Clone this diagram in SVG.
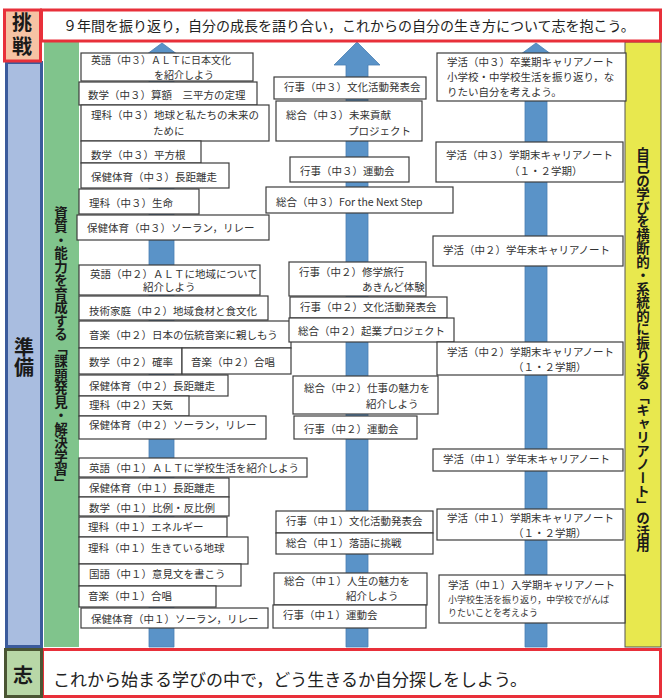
<svg xmlns="http://www.w3.org/2000/svg" width="662" height="698" viewBox="0 0 662 698">
<style>
.b{fill:#fff;stroke:#3c3c3c;stroke-width:1.2}
.t{font-family:"Noto Sans CJK JP","Noto Sans",sans-serif;font-size:10.5px;fill:#333}
.s{font-size:9px}
.lab{font-family:"Noto Sans CJK JP",sans-serif;font-weight:bold;fill:#1a1a1a;text-anchor:middle}
.vl{font-family:"Noto Sans CJK JP",sans-serif;font-weight:bold;font-size:20px;fill:#1a1a1a;writing-mode:vertical-rl}
.v{font-family:"Noto Sans CJK JP",sans-serif;font-weight:bold;font-size:13.5px;fill:#1a1a1a;writing-mode:vertical-rl}
.arrow{fill:#5a93c8;stroke:#4a7fb3;stroke-width:0.8}
</style>
<rect width="662" height="698" fill="#fff"/>
<g id="columns">
<rect x="6.5" y="62.5" width="35" height="584" fill="#a9bde0" stroke="#3b5b9c" stroke-width="3"/>
<rect x="44" y="42" width="35" height="605" fill="#80c48c"/>
<rect x="625" y="42" width="36" height="605" fill="#e8e84e" stroke="#555" stroke-width="1"/>
</g>
<g id="connectors">
<polygon class="arrow" points="162,43 185,60 174,60 174,647 149,647 149,60 139,60"/>
<polygon class="arrow" points="357,42 380,65 368,65 368,647 346,647 346,65 334,65"/>
<polygon class="arrow" points="536,43 559,60 547,60 547,647 525,647 525,60 513,60"/>
</g>
<g id="top">
<rect x="41.5" y="10" width="619" height="31" fill="#fff" stroke="#e8303a" stroke-width="3"/>
<rect x="4.5" y="10" width="36" height="51" fill="#f6c3a4" stroke="#e8303a" stroke-width="3"/>
<text class="vl" x="22" y="12.5" letter-spacing="4">挑戦</text>
<text x="63" y="31" font-family="Noto Sans CJK JP,sans-serif" font-size="14" fill="#222">９年間を振り返り，自分の成長を語り合い，これからの自分の生き方について志を抱こう。</text>
</g>
<g id="junbi">
<text class="vl" x="24" y="337">準備</text>
</g>
<g id="green-label"><text class="v" x="61" y="206">資質・能力を育成する「課題発見・解決学習」</text></g>
<g id="yellow-label"><text class="v" x="643" y="147">自己の学びを横断的・系統的に振り返る「キャリアノート」の活用</text></g>
<g id="bottom">
<rect x="42.5" y="649.5" width="618" height="47" fill="#fff" stroke="#e8303a" stroke-width="3"/>
<rect x="5.5" y="649.5" width="36" height="47" fill="#b8d7a7" stroke="#4a5533" stroke-width="3"/>
<text class="lab" x="23" y="683" font-size="20">志</text>
<text x="53" y="686" font-family="Noto Sans CJK JP,sans-serif" font-size="17" fill="#222">これから始まる学びの中で，どう生きるか自分探しをしよう。</text>
</g>
<g id="left-boxes">
<g id="L1"><rect class="b" x="81" y="53" width="172" height="28"/><text class="t" font-size="10px" style="font-size:10px"><tspan x="91" y="64">英語（中３）ＡＬＴに日本文化</tspan><tspan x="154" y="78.5">を紹介しよう</tspan></text></g>
<g id="L2"><rect class="b" x="79" y="82" width="178" height="23"/><text class="t" x="88" y="99">数学（中３）算額　三平方の定理</text></g>
<g id="L3"><rect class="b" x="81" y="105" width="188" height="36"/><text class="t"><tspan x="91" y="119">理科（中３）地球と私たちの未来の</tspan><tspan x="153" y="134.5">ために</tspan></text></g>
<g id="L4"><rect class="b" x="81" y="141" width="120" height="22"/><text class="t" x="91" y="159">数学（中３）平方根</text></g>
<g id="L5"><rect class="b" x="81" y="163" width="148" height="25"/><text class="t" x="91" y="181">保健体育（中３）長距離走</text></g>
<g id="L6"><rect class="b" x="79" y="189" width="120" height="25"/><text class="t" x="89" y="207">理科（中３）生命</text></g>
<g id="L7"><rect class="b" x="77" y="215" width="192" height="25"/><text class="t" x="87" y="232">保健体育（中３）ソーラン，リレー</text></g>
<g id="L8"><rect class="b" x="79" y="265" width="181" height="30"/><text class="t"><tspan x="90" y="277.5">英語（中２）ＡＬＴに地域について</tspan><tspan x="143" y="291">紹介しよう</tspan></text></g>
<g id="L9"><rect class="b" x="79" y="296" width="189" height="24"/><text class="t" x="89" y="315">技術家庭（中２）地域食材と食文化</text></g>
<g id="L10"><rect class="b" x="79" y="321" width="212" height="27"/><text class="t" x="89" y="339">音楽（中２）日本の伝統音楽に親しもう</text></g>
<g id="L11"><rect class="b" x="79" y="348" width="103" height="26"/><text class="t" x="89" y="366">数学（中２）確率</text></g>
<g id="L12"><rect class="b" x="182" y="348" width="109" height="26"/><text class="t" x="191" y="366">音楽（中２）合唱</text></g>
<g id="L13"><rect class="b" x="79" y="375" width="149" height="21"/><text class="t" x="89" y="390">保健体育（中２）長距離走</text></g>
<g id="L14"><rect class="b" x="79" y="396" width="110" height="20"/><text class="t" x="89" y="409">理科（中２）天気</text></g>
<g id="L15"><rect class="b" x="79" y="416" width="187" height="23"/><text class="t" x="89" y="429">保健体育（中２）ソーラン，リレー</text></g>
<g id="L16"><rect class="b" x="79" y="458" width="228" height="19"/><text class="t" x="89" y="472">英語（中１）ＡＬＴに学校生活を紹介しよう</text></g>
<g id="L17"><rect class="b" x="79" y="478" width="150" height="19"/><text class="t" x="89" y="492">保健体育（中１）長距離走</text></g>
<g id="L18"><rect class="b" x="79" y="497" width="150" height="19"/><text class="t" x="89" y="512">数学（中１）比例・反比例</text></g>
<g id="L19"><rect class="b" x="79" y="517" width="148" height="20"/><text class="t" x="88" y="531">理科（中１）エネルギー</text></g>
<g id="L20"><rect class="b" x="79" y="537" width="169" height="27"/><text class="t" x="88" y="552">理科（中１）生きている地球</text></g>
<g id="L21"><rect class="b" x="79" y="564" width="162" height="22"/><text class="t" x="89" y="578">国語（中１）意見文を書こう</text></g>
<g id="L22"><rect class="b" x="79" y="586" width="137" height="21"/><text class="t" x="88" y="600">音楽（中１）合唱</text></g>
<g id="L23"><rect class="b" x="81" y="608" width="187" height="20"/><text class="t" x="91" y="623">保健体育（中１）ソーラン，リレー</text></g>
</g>
<g id="middle-boxes">
<g id="M1"><rect class="b" x="274" y="77" width="152" height="22"/><text class="t" x="284" y="91">行事（中３）文化活動発表会</text></g>
<g id="M2"><rect class="b" x="276" y="101" width="146" height="40"/><text class="t"><tspan x="286" y="119">総合（中３）未来貢献</tspan><tspan x="348" y="135">プロジェクト</tspan></text></g>
<g id="M3"><rect class="b" x="290" y="157" width="119" height="25"/><text class="t" x="300" y="175">行事（中３）運動会</text></g>
<g id="M4"><rect class="b" x="266" y="187" width="187" height="26"/><text class="t" x="276" y="206">総合（中３）For the Next Step</text></g>
<g id="M5"><rect class="b" x="289" y="262" width="137" height="34"/><text class="t"><tspan x="299" y="276">行事（中２）修学旅行</tspan><tspan x="362" y="291">あきんど体験</tspan></text></g>
<g id="M6"><rect class="b" x="290" y="297" width="157" height="21"/><text class="t" x="300" y="311">行事（中２）文化活動発表会</text></g>
<g id="M7"><rect class="b" x="289" y="318" width="165" height="24"/><text class="t" x="298" y="335">総合（中２）起業プロジェクト</text></g>
<g id="M8"><rect class="b" x="293" y="376" width="145" height="38"/><text class="t"><tspan x="304" y="392">総合（中２）仕事の魅力を</tspan><tspan x="366" y="407.5">紹介しよう</tspan></text></g>
<g id="M9"><rect class="b" x="294" y="416" width="123" height="23"/><text class="t" x="304" y="433">行事（中２）運動会</text></g>
<g id="M10"><rect class="b" x="276" y="511" width="157" height="22"/><text class="t" x="286" y="525">行事（中１）文化活動発表会</text></g>
<g id="M11"><rect class="b" x="276" y="533" width="157" height="21"/><text class="t" x="286" y="547">総合（中１）落語に挑戦</text></g>
<g id="M12"><rect class="b" x="274" y="573" width="153" height="32"/><text class="t"><tspan x="284" y="585">総合（中１）人生の魅力を</tspan><tspan x="346" y="600">紹介しよう</tspan></text></g>
<g id="M13"><rect class="b" x="273" y="605" width="153" height="23"/><text class="t" x="283" y="619">行事（中１）運動会</text></g>
</g>
<g id="right-boxes">
<g id="R1"><rect class="b" x="437" y="53" width="189" height="48"/><text class="t"><tspan x="447" y="66">学活（中３）卒業期キャリアノート</tspan><tspan x="447" y="81">小学校・中学校生活を振り返り，な</tspan><tspan x="447" y="96">りたい自分を考えよう。</tspan></text></g>
<g id="R2"><rect class="b" x="436" y="142" width="187" height="40"/><text class="t"><tspan x="446" y="159">学活（中３）学期末キャリアノート</tspan><tspan x="509" y="175">（１・２学期）</tspan></text></g>
<g id="R3"><rect class="b" x="433" y="236" width="190" height="30"/><text class="t" x="443" y="254">学活（中２）学年末キャリアノート</text></g>
<g id="R4"><rect class="b" x="437" y="342" width="186" height="33"/><text class="t"><tspan x="447" y="355.5">学活（中２）学期末キャリアノート</tspan><tspan x="513" y="370.5">（１・２学期）</tspan></text></g>
<g id="R5"><rect class="b" x="433" y="449" width="190" height="22"/><text class="t" x="443" y="463">学活（中１）学年末キャリアノート</text></g>
<g id="R6"><rect class="b" x="437" y="509" width="186" height="31"/><text class="t"><tspan x="447" y="522">学活（中１）学期末キャリアノート</tspan><tspan x="513" y="536.5">（１・２学期）</tspan></text></g>
<g id="R7"><rect class="b" x="439" y="575" width="186" height="48"/><text class="t"><tspan x="448" y="589">学活（中１）入学期キャリアノート</tspan><tspan class="s" x="448" y="603">小学校生活を振り返り，中学校でがんば</tspan><tspan class="s" x="448" y="616">りたいことを考えよう</tspan></text></g>
</g>
</svg>
